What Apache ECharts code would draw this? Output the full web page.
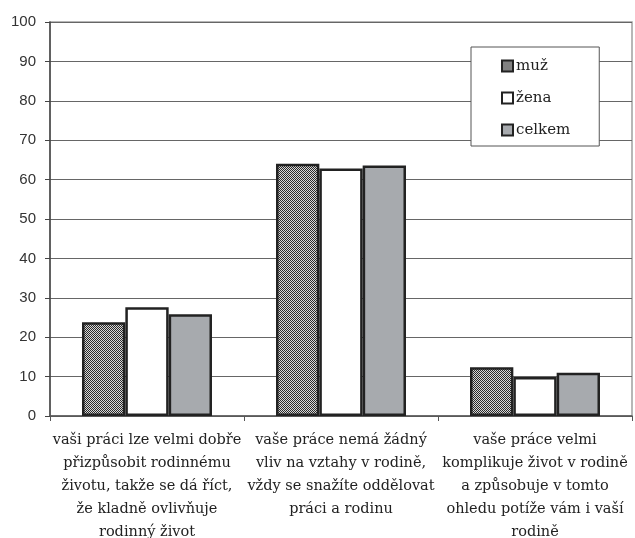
<!DOCTYPE html>
<html>
<head>
<meta charset="utf-8">
<script src="https://cdn.jsdelivr.net/npm/echarts@6/dist/echarts.min.js"></script>
<style>
html,body{margin:0;padding:0;background:#fff;}
#chart{width:635px;height:538px;}
</style>
</head>
<body>
<div id="chart"></div>
<script>
const categories = [
  "vaši práci lze velmi dobře\npřizpůsobit rodinnému\nživotu, takže se dá říct,\nže kladně ovlivňuje\nrodinný život",
  "vaše práce nemá žádný\nvliv na vztahy v rodině,\nvždy se snažíte oddělovat\npráci a rodinu",
  "vaše práce velmi\nkomplikuje život v rodině\na způsobuje v tomto\nohledu potíže vám i vaší\nrodině"
];
const seriesNames = ["muž", "žena", "celkem"];
const muz = [23.8, 64.0, 12.4];
const zena = [27.6, 62.8, 9.9];
const celkem = [25.8, 63.6, 11.0];

function makePattern() {
  const c = document.createElement('canvas');
  c.width = 2; c.height = 2;
  const ctx = c.getContext('2d');
  ctx.fillStyle = '#d8d8d8';
  ctx.fillRect(0, 0, 2, 2);
  ctx.fillStyle = '#2a2a2a';
  ctx.fillRect(0, 0, 1, 1);
  ctx.fillRect(1, 1, 1, 1);
  return c;
}

const chart = echarts.init(document.getElementById('chart'), null, {renderer: 'canvas'});
const serifFont = '"DejaVu Serif", "Liberation Serif", serif';
const border = {borderColor: '#222', borderWidth: 2.5};

chart.setOption({
  animation: false,
  backgroundColor: '#fff',
  grid: {left: 50, right: 3, top: 22, bottom: 122, containLabel: false, outerBoundsMode: 'none',
         show: true, borderColor: '#a0a0a0', borderWidth: 1.5},
  legend: {
    orient: 'vertical',
    left: 471, top: 47,
    padding: [11, 29, 8, 30],
    itemWidth: 11, itemHeight: 11,
    itemGap: 16,
    borderColor: '#555', borderWidth: 1,
    backgroundColor: '#fff',
    textStyle: {fontFamily: serifFont, fontSize: 15, color: '#222', padding: [0, 0, 0, -2], lineHeight: 16},
    data: seriesNames.map(n => ({name: n, icon: 'rect'}))
  },
  xAxis: {
    type: 'category',
    data: categories,
    axisLine: {lineStyle: {color: '#555', width: 1.5}},
    axisTick: {show: true, length: 5, lineStyle: {color: '#555'}},
    axisLabel: {fontFamily: serifFont, fontSize: 14.5, color: '#222', lineHeight: 23, margin: 13, interval: 0}
  },
  yAxis: {
    type: 'value',
    min: 0, max: 100, interval: 10,
    axisLine: {show: true, lineStyle: {color: '#444', width: 1.5}},
    axisTick: {show: true, length: 5, lineStyle: {color: '#444'}},
    axisLabel: {fontFamily: '"Liberation Sans", Arial, sans-serif', fontSize: 15, color: '#333', margin: 14},
    splitLine: {lineStyle: {color: '#666', width: 1}}
  },
  series: [
    {name: seriesNames[0], type: 'bar', data: muz, barGap: '0%', barCategoryGap: '33%',
     itemStyle: Object.assign({color: {image: makePattern(), repeat: 'repeat'}}, border)},
    {name: seriesNames[1], type: 'bar', data: zena, barGap: '0%', barCategoryGap: '33%',
     itemStyle: Object.assign({color: '#ffffff'}, border)},
    {name: seriesNames[2], type: 'bar', data: celkem, barGap: '0%', barCategoryGap: '33%',
     itemStyle: Object.assign({color: '#a7aaae'}, border)}
  ]
});
</script>
</body>
</html>
